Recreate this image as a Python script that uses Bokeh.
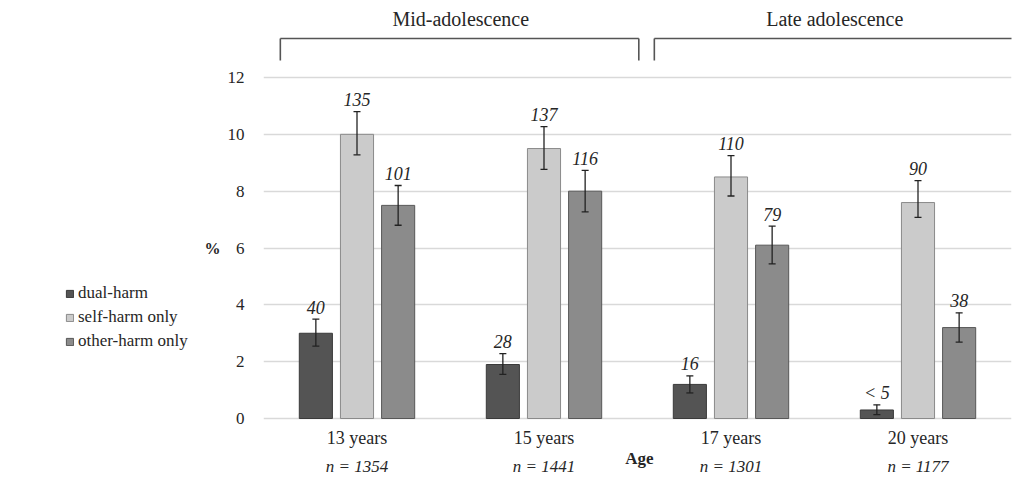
from bokeh.plotting import figure
from bokeh.layouts import row
from bokeh.models import (ColumnDataSource, FactorRange, FixedTicker, Whisker, TeeHead,
                          Legend, LegendItem, Label, Range1d)
from bokeh.transform import dodge
from bokeh.core.properties import value
from bokeh.embed import file_html
from bokeh.resources import INLINE

# ---- data ----
ages = ["13 years", "15 years", "17 years", "20 years"]
n_labels = ["n = 1354", "n = 1441", "n = 1301", "n = 1177"]
series = ["dual-harm", "self-harm only", "other-harm only"]

dual = [3.0, 1.9, 1.2, 0.3]
dual_lo = [2.55, 1.55, 0.9, 0.14]
dual_hi = [3.5, 2.28, 1.5, 0.48]
dual_n = ["40", "28", "16", "< 5"]

self_only = [10.0, 9.5, 8.5, 7.6]
self_lo = [9.28, 8.77, 7.83, 7.08]
self_hi = [10.8, 10.27, 9.25, 8.37]
self_n = ["135", "137", "110", "90"]

other_only = [7.5, 8.0, 6.1, 3.2]
other_lo = [6.8, 7.27, 5.44, 2.69]
other_hi = [8.2, 8.73, 6.77, 3.72]
other_n = ["101", "116", "79", "38"]

y_ticks = [0, 2, 4, 6, 8, 10, 12]
groups = ["Mid-adolescence", "Late adolescence"]
group_start = ["13 years", "17 years"]
group_end = ["15 years", "20 years"]

FONT = "Liberation Serif"
TXT = "#262626"
Y0, Y1 = -2.287, 14.428

styles = [("#545454", "#3a3a3a"), ("#cbcbcb", "#8a8a8a"), ("#8b8b8b", "#575757")]

# ---- main chart ----
p = figure(x_range=FactorRange(*ages, range_padding=0), y_range=Range1d(Y0, Y1),
           frame_width=748, frame_height=475, output_backend="svg", toolbar_location=None,
           x_axis_location=None, min_border_left=40, min_border_right=8,
           min_border_top=8, min_border_bottom=0)
p.outline_line_color = None
p.xgrid.grid_line_color = None
p.ygrid.ticker = FixedTicker(ticks=y_ticks)
p.ygrid.grid_line_color = "#d9d9d9"
p.ygrid.grid_line_width = 1.5
p.yaxis.ticker = FixedTicker(ticks=y_ticks)
p.yaxis.axis_line_color = None
p.yaxis.major_tick_line_color = None
p.yaxis.minor_tick_line_color = None
p.yaxis.major_label_text_font = FONT
p.yaxis.major_label_text_font_size = "17px"
p.yaxis.major_label_text_color = TXT
p.yaxis.major_label_standoff = 13

specs = [
    (dual, dual_lo, dual_hi, dual_n, -0.22),
    (self_only, self_lo, self_hi, self_n, 0.0),
    (other_only, other_lo, other_hi, other_n, 0.22),
]
for (vals, lo, hi, ns, off), (fill, line) in zip(specs, styles):
    src = ColumnDataSource(dict(age=ages, v=vals, lo=lo, hi=hi, n=ns))
    p.vbar(x=dodge("age", off, range=p.x_range), top="v", bottom=0, width=0.177,
           source=src, fill_color=fill, line_color=line, line_width=1)
    w = Whisker(base=dodge("age", off, range=p.x_range), lower="lo", upper="hi", source=src,
                line_color="#222222", line_width=1.3, level="annotation",
                upper_head=TeeHead(size=7, line_color="#222222", line_width=1.3),
                lower_head=TeeHead(size=7, line_color="#222222", line_width=1.3))
    p.add_layout(w)
    p.text(x=dodge("age", off, range=p.x_range), y="hi", text="n", source=src,
           text_font=value(FONT), text_font_style="italic", text_font_size="18px",
           text_color=TXT, text_align="center", text_baseline="alphabetic", y_offset=-12)

# category labels and sample sizes
lab_src = ColumnDataSource(dict(age=ages, nl=n_labels, y1=[-0.70] * 4, y2=[-1.69] * 4))
p.text(x="age", y="y1", text="age", source=lab_src, text_font=value(FONT),
       text_font_size="18px", text_color=TXT, text_align="center", text_baseline="middle")
p.text(x="age", y="y2", text="nl", source=lab_src, text_font=value(FONT),
       text_font_style="italic", text_font_size="17px", text_color=TXT,
       text_align="center", text_baseline="middle")
p.add_layout(Label(x=376, x_units="screen", y=-1.41, text="Age", text_font=FONT,
                   text_font_size="17px", text_font_style="bold", text_color=TXT,
                   text_align="center", text_baseline="middle"))

# group brackets
br = ColumnDataSource(dict(g=groups, s=group_start, e=group_end,
                           top=[13.37] * 2, bot=[12.6] * 2, ty=[14.05] * 2))
line_kw = dict(line_color="#555555", line_width=1.6)
p.segment(x0=dodge("s", -0.41, range=p.x_range), y0="top",
          x1=dodge("e", 0.507, range=p.x_range), y1="top", source=br, **line_kw)
p.segment(x0=dodge("s", -0.41, range=p.x_range), y0="top",
          x1=dodge("s", -0.41, range=p.x_range), y1="bot", source=br, **line_kw)
p.segment(x0=dodge("e", 0.507, range=p.x_range), y0="top",
          x1=dodge("e", 0.507, range=p.x_range), y1="bot", source=br, **line_kw)
p.text(x=dodge("s", 0.555, range=p.x_range), y="ty", text="g", source=br,
       text_font=value(FONT), text_font_size="20px", text_color=TXT,
       text_align="center", text_baseline="middle")

# ---- left side: legend and "%" ----
q = figure(x_range=Range1d(0, 223), y_range=Range1d(Y0, Y1), width=223,
           frame_height=475, output_backend="svg", toolbar_location=None,
           x_axis_location=None, y_axis_location=None,
           min_border_left=0, min_border_right=0, min_border_top=8, min_border_bottom=0)
q.outline_line_color = None
q.grid.grid_line_color = None
# renderers placed far outside the view; they only lend their styles to the legend swatches
dummies = [q.vbar(x=[-500], top=[-500], bottom=[-501], width=1, fill_color=f, line_color=l)
           for f, l in styles]
q.text(x=[212], y=[6], text=["%"], text_font=value(FONT), text_font_size="16px",
       text_font_style="bold", text_color=TXT, text_align="center", text_baseline="middle")
legend = Legend(items=[LegendItem(label=s, renderers=[r]) for s, r in zip(series, dummies)],
                location=(65, 132), glyph_width=9, glyph_height=9, label_standoff=4,
                label_height=20, spacing=4, padding=0, margin=0,
                border_line_color=None, background_fill_alpha=0,
                label_text_font=FONT, label_text_font_size="17px", label_text_color=TXT)
q.add_layout(legend)

layout = row(q, p)
open("out.html", "w").write(file_html(layout, INLINE))
